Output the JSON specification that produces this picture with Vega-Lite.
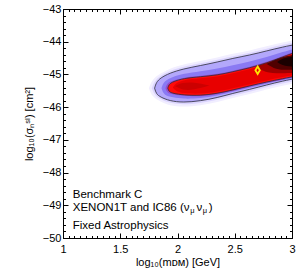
{
"$schema":"https://vega.github.io/schema/vega-lite/v6.json",
"width":229,"height":229,
"autosize":{"type":"none"},
"padding":{"left":63,"top":9,"right":7,"bottom":30},
"config":{
 "view":{"stroke":"#000","strokeWidth":1},
 "font":"Liberation Sans",
 "axis":{"grid":false,"domainColor":"#000","tickColor":"#000","tickWidth":1,"labelFont":"Liberation Sans","labelFontSize":11,"labelColor":"#000","titleFont":"Liberation Sans","titleFontSize":11,"titleFontWeight":"normal","titleColor":"#000","labelOverlap":false,"labelBound":false,"labelFlush":false}
},
"datasets":{
 "halo2":[{"x":1.75,"y":-45.42,"b":-45.42},{"x":1.78,"y":-45.15,"b":-45.69},{"x":1.85,"y":-44.97,"b":-45.83},{"x":1.93,"y":-44.82,"b":-45.95},{"x":2.05,"y":-44.69,"b":-46.0},{"x":2.2,"y":-44.59,"b":-45.95},{"x":2.35,"y":-44.48,"b":-45.85},{"x":2.48,"y":-44.37,"b":-45.72},{"x":2.63,"y":-44.27,"b":-45.6},{"x":2.78,"y":-44.14,"b":-45.46},{"x":2.92,"y":-44.02,"b":-45.34},{"x":3.05,"y":-43.93,"b":-45.25}],
 "halo1":[{"x":1.775,"y":-45.42,"b":-45.42},{"x":1.8,"y":-45.2,"b":-45.64},{"x":1.85,"y":-45.04,"b":-45.76},{"x":1.93,"y":-44.89,"b":-45.88},{"x":2.05,"y":-44.76,"b":-45.93},{"x":2.2,"y":-44.66,"b":-45.88},{"x":2.35,"y":-44.55,"b":-45.78},{"x":2.48,"y":-44.44,"b":-45.65},{"x":2.63,"y":-44.34,"b":-45.53},{"x":2.78,"y":-44.21,"b":-45.39},{"x":2.92,"y":-44.09,"b":-45.27},{"x":3.05,"y":-44.0,"b":-45.18}],
 "outer":[{"x":1.8,"y":-45.42,"b":-45.42},{"x":1.815,"y":-45.24,"b":-45.6},{"x":1.85,"y":-45.11,"b":-45.69},{"x":1.93,"y":-44.96,"b":-45.81},{"x":2.05,"y":-44.83,"b":-45.86},{"x":2.2,"y":-44.73,"b":-45.81},{"x":2.35,"y":-44.62,"b":-45.71},{"x":2.48,"y":-44.51,"b":-45.58},{"x":2.63,"y":-44.41,"b":-45.46},{"x":2.78,"y":-44.28,"b":-45.32},{"x":2.92,"y":-44.16,"b":-45.2},{"x":3.05,"y":-44.07,"b":-45.11}],
 "mid":[{"x":1.86,"y":-45.42,"b":-45.42},{"x":1.88,"y":-45.2,"b":-45.64},{"x":1.96,"y":-45.07,"b":-45.7},{"x":2.05,"y":-44.98,"b":-45.75},{"x":2.2,"y":-44.9,"b":-45.73},{"x":2.35,"y":-44.82,"b":-45.65},{"x":2.48,"y":-44.72,"b":-45.53},{"x":2.63,"y":-44.61,"b":-45.41},{"x":2.78,"y":-44.47,"b":-45.28},{"x":2.92,"y":-44.31,"b":-45.17},{"x":3.05,"y":-44.19,"b":-45.08}],
 "trans":[{"x":1.895,"y":-45.42,"b":-45.42},{"x":1.91,"y":-45.26,"b":-45.57},{"x":1.96,"y":-45.19,"b":-45.61},{"x":2.05,"y":-45.09,"b":-45.66},{"x":2.2,"y":-45.04,"b":-45.68},{"x":2.35,"y":-44.99,"b":-45.61},{"x":2.48,"y":-44.89,"b":-45.51},{"x":2.63,"y":-44.77,"b":-45.38},{"x":2.78,"y":-44.62,"b":-45.26},{"x":2.92,"y":-44.43,"b":-45.16},{"x":3.05,"y":-44.27,"b":-45.07}],
 "inner":[{"x":1.915,"y":-45.42,"b":-45.42},{"x":1.925,"y":-45.3,"b":-45.53},{"x":1.96,"y":-45.22,"b":-45.58},{"x":2.05,"y":-45.12,"b":-45.63},{"x":2.2,"y":-45.07,"b":-45.65},{"x":2.35,"y":-45.02,"b":-45.58},{"x":2.48,"y":-44.92,"b":-45.48},{"x":2.63,"y":-44.8,"b":-45.35},{"x":2.78,"y":-44.65,"b":-45.23},{"x":2.92,"y":-44.46,"b":-45.13},{"x":3.05,"y":-44.3,"b":-45.04}],
 "innerCore":[{"x":1.96,"y":-45.4,"b":-45.4},{"x":1.98,"y":-45.27,"b":-45.5},{"x":2.05,"y":-45.17,"b":-45.58},{"x":2.2,"y":-45.12,"b":-45.6},{"x":2.35,"y":-45.07,"b":-45.53},{"x":2.48,"y":-44.97,"b":-45.43},{"x":2.63,"y":-44.85,"b":-45.3},{"x":2.78,"y":-44.7,"b":-45.18},{"x":2.92,"y":-44.51,"b":-45.08},{"x":3.05,"y":-44.35,"b":-44.99}],
 "spot":[{"x":1.98,"y":-45.36,"b":-45.36},{"x":2.04,"y":-45.25,"b":-45.48},{"x":2.14,"y":-45.23,"b":-45.48},{"x":2.28,"y":-45.34,"b":-45.34}],
 "core1":[{"x":2.68,"y":-44.76,"b":-44.76},{"x":2.76,"y":-44.67,"b":-44.94},{"x":2.9,"y":-44.5,"b":-44.97},{"x":3.05,"y":-44.37,"b":-44.95}],
 "core2":[{"x":2.78,"y":-44.68,"b":-44.68},{"x":2.86,"y":-44.52,"b":-44.85},{"x":2.95,"y":-44.44,"b":-44.86},{"x":3.05,"y":-44.39,"b":-44.85}],
 "core3":[{"x":2.87,"y":-44.62,"b":-44.62},{"x":2.93,"y":-44.48,"b":-44.76},{"x":3.05,"y":-44.44,"b":-44.76}],
 "best":[{"x":2.7,"y":-44.87}],
 "labels":[{"x":1.085,"y":-48.79,"s":"Benchmark C"},{"x":1.085,"y":-49.17,"s":"XENON1T and IC86 (ν"},{"x":2.165,"y":-49.17,"s":"ν"},{"x":2.273,"y":-49.17,"s":")"},{"x":1.085,"y":-49.73,"s":"Fixed Astrophysics"}],
 "subs":[{"x":2.112,"y":-49.25,"s":"μ"},{"x":2.22,"y":-49.25,"s":"μ"}]
},
"layer":[
 {
  "encoding":{
   "x":{"field":"x","type":"quantitative","scale":{"domain":[1,3],"nice":false,"zero":false},
    "axis":{"orient":"bottom","values":[1,1.5,2,2.5,3],"format":"~g","ticks":false,
     "labelPadding":5,"title":"log₁₀(mᴅᴍ) [GeV]","titlePadding":2}},
   "y":{"field":"y","type":"quantitative","scale":{"domain":[-50,-43],"nice":false,"zero":false},
    "axis":{"orient":"left","values":[-50,-49,-48,-47,-46,-45,-44,-43],"format":"d","ticks":false,
     "labelPadding":2,"title":"log₁₀(σₙˢᴵ) [cm²]","titlePadding":8}}
  },
  "layer":[
   {"data":{"name":"halo2"},"mark":{"type":"area","orient":"vertical","interpolate":"basis","color":"#f1eeff","clip":true},"encoding":{"y2":{"field":"b"}}},
   {"data":{"name":"halo1"},"mark":{"type":"area","orient":"vertical","interpolate":"basis","color":"#dcd5ff","clip":true},"encoding":{"y2":{"field":"b"}}},
   {"data":{"name":"outer"},"mark":{"type":"area","orient":"vertical","interpolate":"basis","color":"#b3a8fb","clip":true},"encoding":{"y2":{"field":"b"}}},
   {"data":{"name":"mid"},"mark":{"type":"area","orient":"vertical","interpolate":"basis","color":"#8a7af3","clip":true},"encoding":{"y2":{"field":"b"}}},
   {"data":{"name":"trans"},"mark":{"type":"area","orient":"vertical","interpolate":"basis","color":"#9a4cc8","clip":true},"encoding":{"y2":{"field":"b"}}},
   {"data":{"name":"inner"},"mark":{"type":"area","orient":"vertical","interpolate":"basis","color":"#ff0a0a","clip":true},"encoding":{"y2":{"field":"b"}}},
   {"data":{"name":"innerCore"},"mark":{"type":"area","orient":"vertical","interpolate":"basis","color":"#e80000","clip":true},"encoding":{"y2":{"field":"b"}}},
   {"data":{"name":"spot"},"mark":{"type":"area","orient":"vertical","interpolate":"basis","color":"#cc0000","clip":true},"encoding":{"y2":{"field":"b"}}},
   {"data":{"name":"core1"},"mark":{"type":"area","orient":"vertical","interpolate":"basis","color":"#a00000","clip":true},"encoding":{"y2":{"field":"b"}}},
   {"data":{"name":"core2"},"mark":{"type":"area","orient":"vertical","interpolate":"basis","color":"#500000","clip":true},"encoding":{"y2":{"field":"b"}}},
   {"data":{"name":"core3"},"mark":{"type":"area","orient":"vertical","interpolate":"basis","color":"#1a0000","clip":true},"encoding":{"y2":{"field":"b"}}},
   {"data":{"name":"outer"},"mark":{"type":"area","orient":"vertical","interpolate":"basis","fillOpacity":0,"stroke":"#2b2b3a","strokeWidth":0.8,"clip":true},"encoding":{"y2":{"field":"b"}}},
   {"data":{"name":"inner"},"mark":{"type":"area","orient":"vertical","interpolate":"basis","fillOpacity":0,"stroke":"#2b2b3a","strokeWidth":0.8,"clip":true},"encoding":{"y2":{"field":"b"}}},
   {"data":{"name":"best"},"mark":{"type":"point","shape":"M0,-1L0.6,0L0,1L-0.6,0Z","filled":false,"size":56,"stroke":"#ffe600","strokeWidth":1.8,"opacity":1}},
   {"data":{"name":"labels"},"mark":{"type":"text","align":"left","baseline":"alphabetic","font":"Liberation Sans","fontSize":11.5,"color":"#000"},"encoding":{"text":{"field":"s"}}},
   {"data":{"name":"subs"},"mark":{"type":"text","align":"left","baseline":"alphabetic","font":"Liberation Sans","fontSize":7.5,"color":"#000"},"encoding":{"text":{"field":"s"}}}
  ]
 },
 {
  "data":{"name":"best"},
  "mark":{"type":"point","opacity":0},
  "encoding":{
   "x":{"field":"x","type":"quantitative","scale":{"domain":[1,3],"nice":false,"zero":false},
    "axis":{"orient":"bottom","offset":-229,"values":[1,1.5,2,2.5,3],"labels":false,"title":null,"domain":false,"tickSize":5}},
   "y":{"field":"y","type":"quantitative","scale":{"domain":[-50,-43],"nice":false,"zero":false},
    "axis":{"orient":"left","offset":-229,"values":[-50,-49,-48,-47,-46,-45,-44,-43],"labels":false,"title":null,"domain":false,"tickSize":5}}
  }
 },
 {
  "data":{"name":"best"},
  "mark":{"type":"point","opacity":0},
  "encoding":{
   "x":{"field":"x","type":"quantitative","scale":{"domain":[1,3],"nice":false,"zero":false},
    "axis":{"orient":"top","offset":-229,"values":[1,1.5,2,2.5,3],"labels":false,"title":null,"domain":false,"tickSize":5}},
   "y":{"field":"y","type":"quantitative","scale":{"domain":[-50,-43],"nice":false,"zero":false},
    "axis":{"orient":"right","offset":-229,"values":[-50,-49,-48,-47,-46,-45,-44,-43],"labels":false,"title":null,"domain":false,"tickSize":5}}
  }
 },
 {
  "data":{"name":"best"},
  "mark":{"type":"point","opacity":0},
  "encoding":{
   "x":{"field":"x","type":"quantitative","scale":{"domain":[1,3],"nice":false,"zero":false},
    "axis":{"orient":"bottom","offset":-229,"values":[1.05,1.1,1.15,1.2,1.25,1.3,1.35,1.4,1.45,1.55,1.6,1.65,1.7,1.75,1.8,1.85,1.9,1.95,2.05,2.1,2.15,2.2,2.25,2.3,2.35,2.4,2.45,2.55,2.6,2.65,2.7,2.75,2.8,2.85,2.9,2.95],"labels":false,"title":null,"domain":false,"tickSize":2.5}},
   "y":{"field":"y","type":"quantitative","scale":{"domain":[-50,-43],"nice":false,"zero":false},
    "axis":{"orient":"left","offset":-229,"values":[-49.8,-49.6,-49.4,-49.2,-48.8,-48.6,-48.4,-48.2,-47.8,-47.6,-47.4,-47.2,-46.8,-46.6,-46.4,-46.2,-45.8,-45.6,-45.4,-45.2,-44.8,-44.6,-44.4,-44.2,-43.8,-43.6,-43.4,-43.2],"labels":false,"title":null,"domain":false,"tickSize":2.5}}
  }
 },
 {
  "data":{"name":"best"},
  "mark":{"type":"point","opacity":0},
  "encoding":{
   "x":{"field":"x","type":"quantitative","scale":{"domain":[1,3],"nice":false,"zero":false},
    "axis":{"orient":"top","offset":-229,"values":[1.05,1.1,1.15,1.2,1.25,1.3,1.35,1.4,1.45,1.55,1.6,1.65,1.7,1.75,1.8,1.85,1.9,1.95,2.05,2.1,2.15,2.2,2.25,2.3,2.35,2.4,2.45,2.55,2.6,2.65,2.7,2.75,2.8,2.85,2.9,2.95],"labels":false,"title":null,"domain":false,"tickSize":2.5}},
   "y":{"field":"y","type":"quantitative","scale":{"domain":[-50,-43],"nice":false,"zero":false},
    "axis":{"orient":"right","offset":-229,"values":[-49.8,-49.6,-49.4,-49.2,-48.8,-48.6,-48.4,-48.2,-47.8,-47.6,-47.4,-47.2,-46.8,-46.6,-46.4,-46.2,-45.8,-45.6,-45.4,-45.2,-44.8,-44.6,-44.4,-44.2,-43.8,-43.6,-43.4,-43.2],"labels":false,"title":null,"domain":false,"tickSize":2.5}}
  }
 }
],
"resolve":{"axis":{"x":"independent","y":"independent"}}
}
